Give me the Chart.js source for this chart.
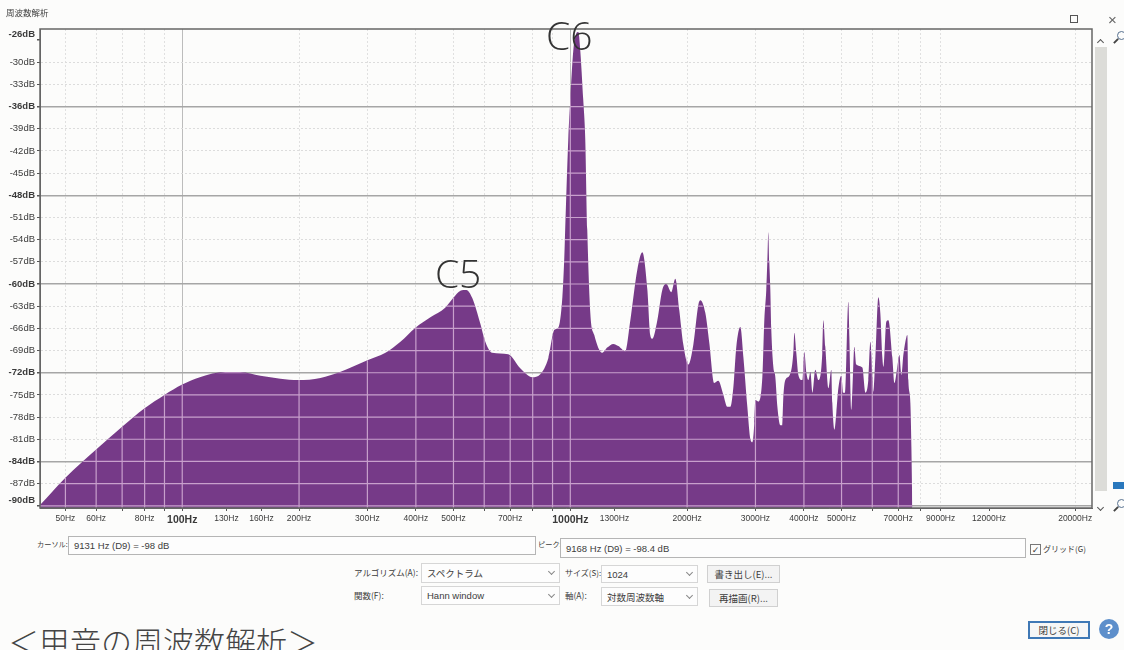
<!DOCTYPE html>
<html lang="ja">
<head>
<meta charset="utf-8">
<title>周波数解析</title>
<script src="https://cdn.jsdelivr.net/npm/chart.js@4"></script>
<style>
  html, body { margin: 0; padding: 0; background: #fcfcfb; }
  body { position: relative; width: 1124px; height: 650px; overflow: hidden; color: #3c3c3c;
         font: 8.5px "Noto Sans CJK JP", "Liberation Sans", sans-serif; filter: blur(0.5px); }
  canvas { position: absolute; left: 0; top: 0; }
  .ui { position: absolute; white-space: nowrap; line-height: 1; }
  .box { position: absolute; box-sizing: border-box; border: 1px solid #b5b5b5; background: #fdfdfd;
         font: 9.5px "Liberation Sans", "Noto Sans CJK JP", sans-serif; padding-left: 5px;
         display: flex; align-items: center; white-space: nowrap; }
  .sel { border-color: #d6d6d6; }
  .sel::after { content: ""; position: absolute; right: 5px; top: 50%; width: 4px; height: 4px; margin-top: -4px;
                border-right: 1px solid #888; border-bottom: 1px solid #888; transform: rotate(45deg); }
  .btn { border-color: #d0d0d0; background: #f3f3f3; justify-content: center; padding: 0; }
  .chev { position: absolute; left: 1098px; width: 4px; height: 4px; border-right: 1px solid #555; border-bottom: 1px solid #555; }
  #caption { left: 8px; top: 618px; font: 300 31px "Noto Sans CJK JP", sans-serif; color: #444; }
  #scroll { position: absolute; left: 1095px; top: 47px; width: 12px; height: 444px; background: #dcdcd8; }
  .lens { position: absolute; width: 7px; height: 7px; border: 1.5px solid #56708f; border-radius: 50%; }
  .lens::after { content: ""; position: absolute; left: -5px; top: 8px; width: 6px; height: 2px; background: #444; transform: rotate(-45deg); }
</style>
</head>
<body>
<canvas id="spectrum" width="1124" height="535"></canvas>

<div class="ui" style="left:6px;top:8px">周波数解析</div>
<div class="ui" style="left:1070px;top:15px;width:6px;height:6px;border:1.5px solid #555"></div>
<div class="ui" style="left:1108px;top:11px;font:15px 'Liberation Sans';color:#666">×</div>
<div class="chev" style="top:40px;transform:rotate(225deg)"></div>
<div id="scroll"></div>
<div class="chev" style="top:505px;transform:rotate(45deg)"></div>
<div class="lens" style="left:1117px;top:31px"></div>
<div class="lens" style="left:1117px;top:499px"></div>
<div class="ui" style="left:1113px;top:482px;width:11px;height:7px;background:#2a78bd"></div>

<div class="ui" style="left:37px;top:541px;font-size:7.2px">カーソル:</div>
<div class="box" style="left:68px;top:536px;width:468px;height:19px">9131 Hz (D9) = -98 dB</div>
<div class="ui" style="left:538px;top:541px;font-size:7.2px">ピーク:</div>
<div class="box" style="left:560px;top:538px;width:466px;height:20px">9168 Hz (D9) = -98.4 dB</div>
<div class="ui" style="left:1030px;top:544px;width:9px;height:9px;border:1px solid #777;font:9px 'DejaVu Sans';text-align:center">✓</div>
<div class="ui" style="left:1043px;top:545px;font-size:8px">グリッド(G)</div>

<div class="ui" style="left:354px;top:568px">アルゴリズム(A):</div>
<div class="box sel" style="left:421px;top:563px;width:139px;height:20px;font-family:'Noto Sans CJK JP'">スペクトラム</div>
<div class="ui" style="left:565px;top:569px;font-size:8px">サイズ(S):</div>
<div class="box sel" style="left:601px;top:565px;width:97px;height:18px">1024</div>
<div class="box btn" style="left:707px;top:565px;width:73px;height:18px;font-family:'Noto Sans CJK JP'">書き出し(E)...</div>

<div class="ui" style="left:354px;top:591px">関数(F):</div>
<div class="box sel" style="left:421px;top:586px;width:139px;height:19px">Hann window</div>
<div class="ui" style="left:565px;top:591px">軸(A):</div>
<div class="box sel" style="left:601px;top:587px;width:97px;height:19px;font-family:'Noto Sans CJK JP'">対数周波数軸</div>
<div class="box btn" style="left:709px;top:589px;width:69px;height:18px;font-family:'Noto Sans CJK JP'">再描画(R)...</div>

<div class="box btn" style="left:1028px;top:621px;width:62px;height:18px;border:2px solid #3f78b5;background:#f6f6f6;font-family:'Noto Sans CJK JP'">閉じる(C)</div>
<div class="ui" style="left:1099px;top:619px;width:20px;height:20px;border-radius:50%;background:#5d8fcb;color:#fff;font:bold 14px/20px 'Liberation Sans';text-align:center">?</div>

<div class="ui" id="caption">＜甲音の周波数解析＞</div>

<script>
// values
const freqs = [43, 50, 60, 70, 80, 90, 100, 111, 129, 141, 159, 179, 199, 227, 255, 300, 334, 365, 399, 436, 476, 499, 521, 540, 559, 586, 604, 629, 692, 743, 798, 837, 878, 910, 931, 954, 965, 970, 988, 1000, 1018, 1036, 1049, 1061, 1080, 1093, 1106, 1126, 1153, 1209, 1245, 1291, 1330, 1386, 1428, 1488, 1533, 1580, 1607, 1627, 1676, 1726, 1768, 1821, 1865, 1909, 1956, 2014, 2075, 2138, 2163, 2228, 2282, 2350, 2407, 2480, 2539, 2585, 2631, 2678, 2743, 2793, 2859, 2911, 2945, 2980, 2998, 3051, 3125, 3162, 3199, 3219, 3238, 3257, 3277, 3296, 3336, 3376, 3417, 3478, 3518, 3540, 3582, 3668, 3756, 3778, 3823, 3870, 3962, 4009, 4058, 4107, 4156, 4206, 4279, 4357, 4461, 4488, 4541, 4623, 4706, 4734, 4791, 4848, 4906, 4994, 5053, 5114, 5206, 5238, 5300, 5332, 5395, 5459, 5657, 5759, 5861, 5933, 6004, 6039, 6112, 6220, 6295, 6370, 6409, 6522, 6602, 6759, 6842, 6963, 7046, 7131, 7215, 7345, 7389, 7432, 7522, 7568, 7613];
const levels = [-89.9, -86.2, -82.4, -79.3, -76.8, -75, -73.6, -72.6, -71.9, -71.9, -72.4, -72.8, -73, -72.7, -71.9, -70.3, -69.3, -67.8, -65.9, -64.5, -63.2, -61.9, -60.9, -60.8, -61.9, -65.3, -67.8, -69.3, -69.5, -71.4, -72.6, -72.2, -70, -66.2, -65.9, -61.8, -56.4, -52.7, -40.5, -35.1, -28.4, -26.1, -25.9, -28.4, -35.1, -40.5, -52.7, -63.9, -66.9, -69.3, -68.6, -68.1, -68.4, -69.1, -64.9, -58.1, -55.7, -60.8, -66.9, -67.4, -64.9, -60.8, -60, -61.1, -59.3, -63.5, -68.2, -70.9, -68.2, -62.8, -62.2, -63.9, -68, -73.4, -73.1, -75, -76.6, -76.6, -74, -68.5, -65.8, -69.9, -76.6, -81, -81.4, -78.8, -75.7, -75.9, -72.6, -64.9, -60.8, -57, -53, -57, -60.8, -66.2, -71.2, -72.6, -76.6, -79.1, -79.1, -75.3, -73, -72.4, -69.3, -66.6, -69.3, -72.3, -73, -69.2, -72, -73, -71.9, -74.7, -71.6, -73, -69.3, -64.9, -68.5, -74.1, -71.6, -76.1, -79.7, -77.4, -74.1, -72.4, -74.7, -74.7, -62.4, -67.2, -77, -74.3, -68.5, -70.9, -71.3, -74.7, -73, -67.8, -72.6, -74.6, -69.9, -61.8, -64, -69.9, -71.2, -65.1, -64.9, -69.9, -73.4, -71.2, -69.6, -72.3, -69.6, -67.2, -66.9, -73, -76.1, -82, -91];

const xLineVals = [50, 60, 70, 80, 90, 100, 200, 300, 400, 500, 600, 700, 800, 900, 1000, 2000, 3000, 4000, 5000, 6000, 7000, 8000, 9000, 20000];
const xTickVals = [50, 60, 70, 80, 90, 100, 130, 160, 200, 300, 400, 500, 600, 700, 800, 900, 1000, 1300, 2000, 3000, 4000, 5000, 6000, 7000, 8000, 9000, 12000, 20000];
const xTickLabels = ["50Hz", "60Hz", "", "80Hz", "", "100Hz", "130Hz", "160Hz", "200Hz", "300Hz", "400Hz", "500Hz", "", "700Hz", "", "", "1000Hz", "1300Hz", "2000Hz", "3000Hz", "4000Hz", "5000Hz", "", "7000Hz", "", "9000Hz", "12000Hz", "20000Hz"];
const xBold = [100, 1000];

const yTickVals = [-27, -30, -33, -36, -39, -42, -45, -48, -51, -54, -57, -60, -63, -66, -69, -72, -75, -78, -81, -84, -87, -90];
const yTickLabels = ["-26dB", "-30dB", "-33dB", "-36dB", "-39dB", "-42dB", "-45dB", "-48dB", "-51dB", "-54dB", "-57dB", "-60dB", "-63dB", "-66dB", "-69dB", "-72dB", "-75dB", "-78dB", "-81dB", "-84dB", "-87dB", "-90dB"];
const yBold = [-27, -36, -48, -60, -72, -84, -90];

const noteLabels = ["C5", "C6"];
const noteFreqs = [514, 994];
const noteLevels = [-60.5, -28.4];

const FILL = "#763a88";
const PINK = "#c8a0cc";

const tickVal = c => (c.tick ? c.tick.value : null);

// pink copy of the grid, only inside the filled shape
const gridOnFill = {
  id: "gridOnFill",
  afterDatasetsDraw(chart) {
    const { ctx, chartArea: a, scales } = chart;
    const pts = chart.getDatasetMeta(0).data;
    ctx.save();
    ctx.beginPath();
    ctx.moveTo(pts[0].x, a.bottom);
    pts.forEach(p => ctx.lineTo(p.x, p.y));
    ctx.lineTo(pts[pts.length - 1].x, a.bottom);
    ctx.closePath();
    ctx.clip();
    ctx.strokeStyle = PINK;
    ctx.lineWidth = 1.2;
    xLineVals.forEach(v => {
      const x = scales.x.getPixelForValue(v);
      ctx.beginPath(); ctx.moveTo(x, a.top); ctx.lineTo(x, a.bottom); ctx.stroke();
    });
    yTickVals.slice(1).forEach(v => {
      const y = scales.y.getPixelForValue(v);
      ctx.beginPath(); ctx.moveTo(a.left, y); ctx.lineTo(a.right, y); ctx.stroke();
    });
    ctx.restore();
  },
  afterDraw(chart) {
    const { ctx, chartArea: a, scales } = chart;
    ctx.save();
    ctx.strokeStyle = "#666";
    ctx.lineWidth = 1.5;
    ctx.strokeRect(a.left, a.top, a.right - a.left, a.bottom - a.top);
    ctx.fillStyle = "#333";
    ctx.font = '300 39px "Open Sans", "Noto Sans", sans-serif';
    ctx.textAlign = "center";
    ctx.textBaseline = "alphabetic";
    noteLabels.forEach((t, i) => {
      ctx.fillText(t, scales.x.getPixelForValue(noteFreqs[i]), scales.y.getPixelForValue(noteLevels[i]));
    });
    ctx.restore();
  }
};

new Chart(document.getElementById("spectrum"), {
  type: "line",
  data: {
    datasets: [{
      data: freqs.map((f, i) => ({ x: f, y: levels[i] })),
      borderWidth: 0,
      pointRadius: 0,
      cubicInterpolationMode: "monotone",
      fill: "start",
      backgroundColor: FILL
    }]
  },
  options: {
    responsive: false,
    animation: false,
    layout: { padding: { top: 29, right: 32 } },
    plugins: { legend: { display: false }, tooltip: { enabled: false } },
    scales: {
      x: {
        type: "logarithmic",
        min: 43,
        max: 22100,
        afterBuildTicks: s => { s.ticks = xTickVals.map(v => ({ value: v })); },
        afterFit: s => { s.height = 27; },
        grid: {
          color: c => {
            const v = tickVal(c);
            if (!xLineVals.includes(v)) return "rgba(0,0,0,0)";
            return xBold.includes(v) ? "#bcbcbc" : "#e0e0e0";
          },
          tickLength: 3,
          tickColor: "#555"
        },
        border: { color: "#666", dash: c => (xBold.includes(tickVal(c)) ? [] : [2, 2]) },
        ticks: {
          autoSkip: false,
          maxRotation: 0,
          padding: 3,
          color: "#3a3a3a",
          callback: v => xTickLabels[xTickVals.indexOf(v)],
          font: c => (xBold.includes(tickVal(c))
            ? { family: "Liberation Sans", size: 10.5, weight: "bold" }
            : { family: "Liberation Sans", size: 8.5 })
        }
      },
      y: {
        type: "linear",
        min: -90.3,
        max: -25.5,
        afterBuildTicks: s => { s.ticks = yTickVals.map(v => ({ value: v })); },
        afterFit: s => { s.width = 40; },
        grid: {
          color: c => {
            const v = tickVal(c);
            if (v === -27) return "rgba(0,0,0,0)";
            return yBold.includes(v) ? "#a6a6a6" : "#dcdcdc";
          },
          lineWidth: c => (yBold.includes(tickVal(c)) ? 1.5 : 1),
          tickLength: 3,
          tickColor: "#555"
        },
        border: { color: "#666", dash: c => (yBold.includes(tickVal(c)) ? [] : [2, 2]) },
        ticks: {
          autoSkip: false,
          padding: 2,
          color: "#3a3a3a",
          // the two end labels sit a little inside their tick
          callback: v => {
            const t = yTickLabels[yTickVals.indexOf(v)];
            return v === -27 || v === -90 ? [t, ""] : t;
          },
          font: c => ({
            family: "Liberation Sans",
            size: 9.5,
            weight: yBold.includes(tickVal(c)) ? "bold" : "normal"
          })
        }
      }
    }
  },
  plugins: [gridOnFill]
});
</script>
</body>
</html>
